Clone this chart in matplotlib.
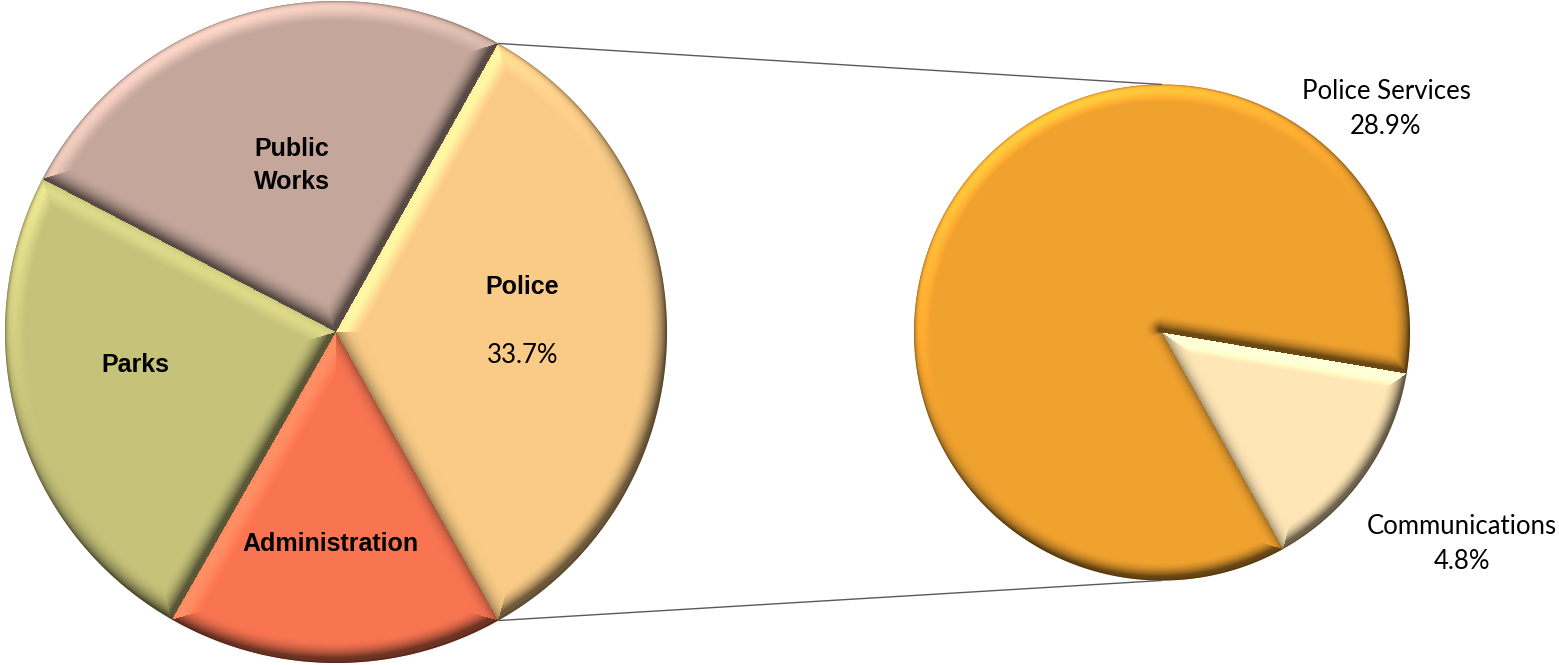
import numpy as np
import matplotlib
matplotlib.use("Agg")
import matplotlib.pyplot as plt

# Share of the budget by department (percent)
dept_labels = ["Police", "Public\nWorks", "Parks", "Administration"]
dept_values = [33.7, 25.5, 24.4, 16.4]
dept_colors = ["#F9CB86", "#C4A69B", "#C6C27A", "#F97552"]

# Breakdown of the Police share (percent of the total budget)
police_labels = ["Communications", "Police Services"]
police_values = [4.8, 28.9]
police_colors = ["#FFE6B6", "#F0A22F"]

W, H = 1559, 665
fig = plt.figure(figsize=(W / 100, H / 100), dpi=100)
ax = fig.add_axes([0, 0, 1, 1])

main_center, main_r = (336.0, 333.0), 331.0
sub_center, sub_r = (1162.0, 332.5), 248.0

main_start = -0.5 * dept_values[0] / sum(dept_values) * 360
wedges_main, _ = ax.pie(dept_values, colors=dept_colors, startangle=main_start,
                        counterclock=True, center=main_center, radius=main_r,
                        wedgeprops=dict(linewidth=0))
wedges_sub, _ = ax.pie(police_values, colors=police_colors, startangle=-60.8,
                       counterclock=True, center=sub_center, radius=sub_r,
                       wedgeprops=dict(linewidth=0))


def bevel(ax, wedges, center, radius, width, light=(-0.35, 0.7, 0.62),
          gain=0.5, lo=0.45, hi=1.3, max_tilt=70, power=1.6):
    """Overlay a soft bevel (lit from the upper left) along every slice edge."""
    cx, cy = center
    x0, x1 = int(np.floor(cx - radius)) - 2, int(np.ceil(cx + radius)) + 2
    y0, y1 = int(np.floor(cy - radius)) - 2, int(np.ceil(cy + radius)) + 2
    xs = np.arange(x0, x1) + 0.5 - cx
    ys = np.arange(y0, y1) + 0.5 - cy
    X, Y = np.meshgrid(xs, ys)
    R = np.hypot(X, Y)
    Rs = np.maximum(R, 1e-9)
    ang = np.degrees(np.arctan2(Y, X))

    dist = radius - R
    nx, ny = X / Rs, Y / Rs
    base = np.zeros(X.shape + (3,))
    for w in wedges:
        t1, t2 = w.theta1, w.theta2
        span = (t2 - t1) % 360 or 360
        inside = ((ang - t1) % 360) < span
        base[inside] = w.get_facecolor()[:3]
        for t in (t1, t2):
            ux, uy = np.cos(np.radians(t)), np.sin(np.radians(t))
            p = np.clip(X * ux + Y * uy, 0, radius)
            qx, qy = p * ux - X, p * uy - Y
            d = np.hypot(qx, qy)
            ds = np.maximum(d, 1e-9)
            better = inside & (d < dist)
            dist = np.where(better, d, dist)
            nx = np.where(better, qx / ds, nx)
            ny = np.where(better, qy / ds, ny)

    l = np.array(light, float)
    l /= np.linalg.norm(l)
    s = np.clip(1 - dist / width, 0, 1)
    tilt = (s ** power) * np.radians(max_tilt)
    inten = np.sin(tilt) * (nx * l[0] + ny * l[1]) + np.cos(tilt) * l[2]
    factor = np.clip(1 + gain * (inten - l[2]) / l[2], lo, hi)
    # thin darker rim at the very outer edge
    rim = 1 - 0.35 * np.exp(-np.clip(radius - R, 0, None) / 1.5)
    rgb = np.clip(base * factor[..., None] * rim[..., None], 0, 1)
    alpha = np.where(dist < width, 1.0, 0.0)
    alpha *= np.clip(radius - R + 0.5, 0, 1)
    img = np.dstack([rgb, alpha])
    ax.imshow(img, extent=(x0, x1, y0, y1), origin="lower",
              interpolation="nearest", zorder=2)


bevel(ax, wedges_main, main_center, main_r, 22)
bevel(ax, wedges_sub, sub_center, sub_r, 18)

# series lines joining the Police slice to the secondary pie
police_wedge = wedges_main[0]
mx, my = main_center
sx, sy = sub_center
for t, ey in ((police_wedge.theta2, sy + sub_r), (police_wedge.theta1, sy - sub_r)):
    px = mx + main_r * np.cos(np.radians(t))
    py = my + main_r * np.sin(np.radians(t))
    ax.plot([px, sx], [py, ey], color="#5a5a5a", lw=1.0, zorder=3,
            solid_capstyle="butt")

bold = dict(family="Liberation Sans", weight="bold", size=18, color="black",
            ha="center", va="baseline", zorder=4)
light_font = dict(family="Lato", size=18.5, color="black", ha="center",
                  va="baseline", zorder=4)

ax.text(522, H - 294, dept_labels[0], **bold)
ax.text(523, H - 363, f"{dept_values[0]}%", **light_font)
ax.text(292, H - 189, dept_labels[1], linespacing=1.45, **bold)
ax.text(135, H - 372, dept_labels[2], **bold)
ax.text(330, H - 551, dept_labels[3], **bold)

ax.text(1386, H - 134, f"{police_labels[1]}\n{police_values[1]}%",
        linespacing=1.5, **light_font)
ax.text(1462, H - 569, f"{police_labels[0]}\n{police_values[0]}%",
        linespacing=1.5, **light_font)

ax.set_xlim(0, W)
ax.set_ylim(0, H)
ax.set_aspect("auto")
ax.axis("off")
fig.savefig("out.png", dpi=100, facecolor="white")
